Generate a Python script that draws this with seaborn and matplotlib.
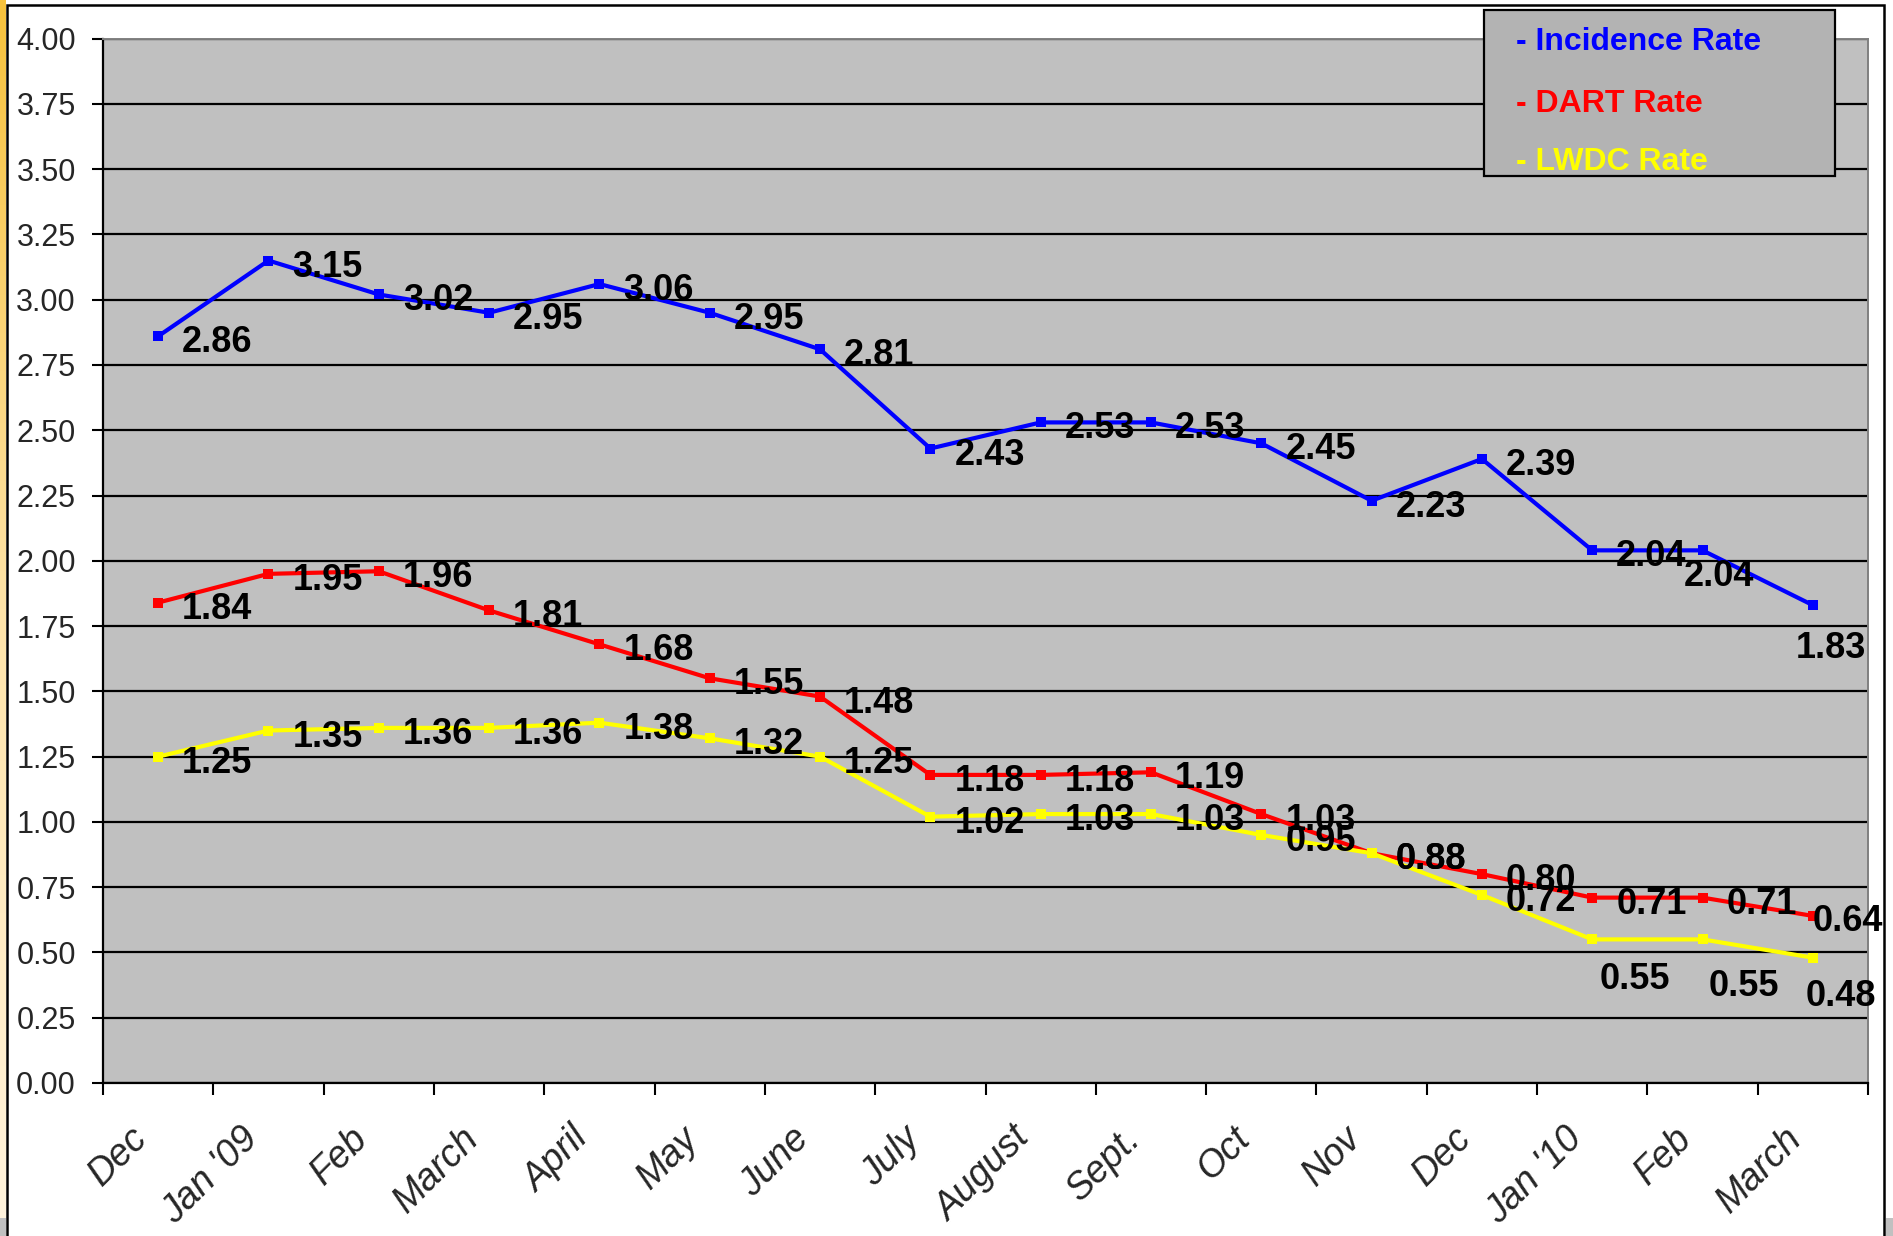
import numpy as np
import matplotlib
matplotlib.use("Agg")
import matplotlib.pyplot as plt
import seaborn as sns
from matplotlib.patches import Rectangle
from matplotlib.colors import LinearSegmentedColormap
from matplotlib.transforms import ScaledTranslation

months = ["Dec", "Jan '09", "Feb", "March", "April", "May", "June", "July",
          "August", "Sept.", "Oct", "Nov", "Dec", "Jan '10", "Feb", "March"]
incidence = [2.86, 3.15, 3.02, 2.95, 3.06, 2.95, 2.81, 2.43,
             2.53, 2.53, 2.45, 2.23, 2.39, 2.04, 2.04, 1.83]
dart = [1.84, 1.95, 1.96, 1.81, 1.68, 1.55, 1.48, 1.18,
        1.18, 1.19, 1.03, 0.88, 0.80, 0.71, 0.71, 0.64]
lwdc = [1.25, 1.35, 1.36, 1.36, 1.38, 1.32, 1.25, 1.02,
        1.03, 1.03, 0.95, 0.88, 0.72, 0.55, 0.55, 0.48]
series_names = ["Incidence Rate", "DART Rate", "LWDC Rate"]
colors = ["#0000FF", "#FF0000", "#FFFF00"]

# label offsets in pixels (left edge, vertical centre) where moved by hand
DEFAULT_OFF = (24, -3)
label_moves = {
    ("Incidence Rate", 14): (-19, -23),
    ("Incidence Rate", 15): (-17, -40),
    ("DART Rate", 15): (0, -2),
    ("LWDC Rate", 13): (7, -37),
    ("LWDC Rate", 14): (6, -44),
    ("LWDC Rate", 15): (-7, -35),
}

W, H = 1893, 1236

sns.set_theme(style="white")
plt.rcParams["font.family"] = ["Liberation Sans", "DejaVu Sans"]

fig = plt.figure(figsize=(W / 100, H / 100), dpi=100)
fig.patch.set_facecolor("white")

# left decorative strip and corner bits
strip = fig.add_axes([0, 18 / H, 6 / W, 1 - 18 / H])
grad = np.linspace(0, 1, 256).reshape(-1, 1)
strip.imshow(grad, aspect="auto",
             cmap=LinearSegmentedColormap.from_list("s", ["#F7C23C", "#FDE3A8", "#FFF3DC"]))
strip.axis("off")
fig.add_artist(Rectangle((0, 0), 6 / W, 18 / H, transform=fig.transFigure,
                         facecolor="#C0C0C0", edgecolor="none"))
fig.add_artist(Rectangle((1886 / W, 0), 7 / W, 18 / H, transform=fig.transFigure,
                         facecolor="#C0C0C0", edgecolor="none"))
fig.add_artist(Rectangle((7 / W, -0.05), (1884 - 7) / W, 1 - 5 / H + 0.05,
                         transform=fig.transFigure, facecolor="none",
                         edgecolor="black", linewidth=1.8))

left, right, top, bottom = 103, 1868, 38.6, 1083
ax = fig.add_axes([left / W, 1 - bottom / H, (right - left) / W, (bottom - top) / H])
ax.set_facecolor("#C0C0C0")

pos = np.arange(len(months))
for name, vals, c in zip(series_names, [incidence, dart, lwdc], colors):
    sns.lineplot(x=pos, y=vals, color=c, marker="s", markersize=6.5,
                 markeredgewidth=0, linewidth=3, ax=ax, legend=False, zorder=3)

for name, vals in zip(series_names, [incidence, dart, lwdc]):
    for i, v in enumerate(vals):
        dx, dy = label_moves.get((name, i), DEFAULT_OFF)
        ax.annotate(f"{v:.2f}", (i, v), xytext=(dx, dy - 13), textcoords="offset pixels",
                    ha="left", va="baseline", fontsize=26, fontweight="bold",
                    color="black", zorder=4, annotation_clip=False)

ax.set_xlim(-0.5, len(months) - 0.5)
ax.set_ylim(0, 4)
ax.set_yticks(np.arange(0, 4.01, 0.25))
ax.set_yticklabels([f"{t:.2f}" for t in np.arange(0, 4.01, 0.25)])
ax.yaxis.grid(True, color="black", linewidth=1.6)
ax.xaxis.grid(False)
ax.set_axisbelow(True)

for s in ["left", "bottom"]:
    ax.spines[s].set_color("black")
    ax.spines[s].set_linewidth(1.6)
for s in ["top", "right"]:
    ax.spines[s].set_color("#808080")
    ax.spines[s].set_linewidth(1.4)

ax.tick_params(axis="y", which="major", direction="out", length=8, width=1.5,
               color="black", labelsize=22, pad=11.5, left=True)
ax.set_xticks(pos)
ax.set_xticklabels(months)
ax.set_xticks(np.arange(-0.5, len(months), 1), minor=True)
ax.tick_params(axis="x", which="major", length=0, pad=36, labelsize=27, bottom=True)
ax.tick_params(axis="x", which="minor", direction="out", length=8.6, width=1.5,
               color="black", bottom=True)
shift = ScaledTranslation(-16 / 100, 0, fig.dpi_scale_trans)
for lab in ax.get_xticklabels():
    lab.set_rotation(45)
    lab.set_ha("right")
    lab.set_va("center")
    lab.set_rotation_mode("anchor")
    lab.set_fontstyle("italic")
    lab.set_transform(lab.get_transform() + shift)
ax.set_xlabel("")
ax.set_ylabel("")

# legend box
lx0, ly0, lx1, ly1 = 1484, 10, 1835, 176
fig.add_artist(Rectangle((lx0 / W, 1 - ly1 / H), (lx1 - lx0) / W, (ly1 - ly0) / H,
                         transform=fig.transFigure, facecolor="#B3B3B3",
                         edgecolor="black", linewidth=1.6, zorder=10))
for name, c, yc in zip(series_names, colors, [39, 101, 159]):
    fig.text(1516 / W, 1 - (yc + 11.5) / H, f"- {name}", color=c, fontsize=23,
             fontweight="bold", ha="left", va="baseline", zorder=11)

fig.savefig("out.png", dpi=100)
